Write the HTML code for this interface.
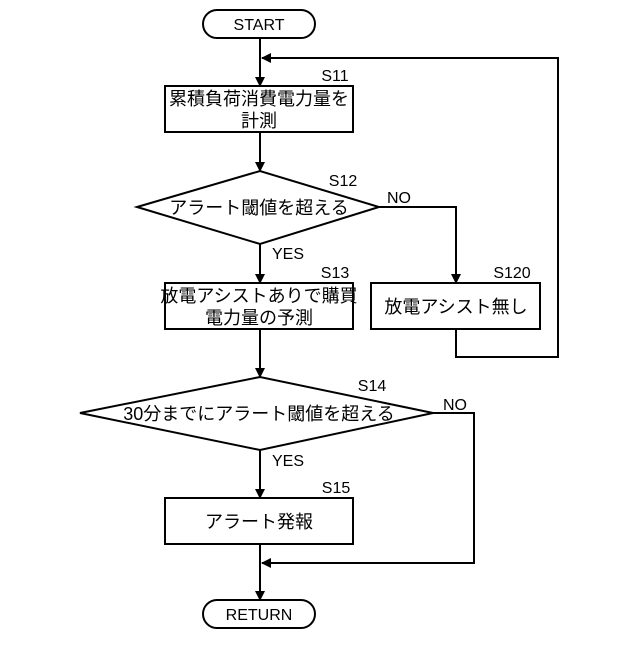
<!DOCTYPE html>
<html><head><meta charset="utf-8"><style>
html,body{margin:0;padding:0;background:#fff;}
svg text{font-family:"Liberation Sans","Noto Sans CJK JP",sans-serif;fill:#000;}
</style></head><body>
<svg width="640" height="640" viewBox="0 0 640 640" xmlns="http://www.w3.org/2000/svg">
<defs><marker id="a" markerWidth="10" markerHeight="10" refX="9" refY="5" orient="auto" markerUnits="userSpaceOnUse"><path d="M0,0 L10,5 L0,10 Z" fill="#000"/></marker></defs>
<g stroke="#000" stroke-width="2" fill="none">
<rect x="203" y="10" width="112" height="28" rx="14"/>
<rect x="203" y="600" width="112" height="28" rx="14"/>
<rect x="165" y="86" width="188" height="46"/>
<rect x="165" y="283" width="188" height="46"/>
<rect x="371" y="283" width="169" height="46"/>
<rect x="165" y="498" width="188" height="46"/>
<polygon points="137,207 260,171 379,207 260,244"/>
<polygon points="80,413 260,377 433,413 260,450"/>
<line x1="260" y1="38" x2="260" y2="86" marker-end="url(#a)"/>
<polyline points="456,329 456,357 558,357 558,58 262,58" marker-end="url(#a)"/>
<line x1="260" y1="132" x2="260" y2="171" marker-end="url(#a)"/>
<line x1="260" y1="244" x2="260" y2="283" marker-end="url(#a)"/>
<polyline points="379,207 456,207 456,283" marker-end="url(#a)"/>
<line x1="260" y1="329" x2="260" y2="377" marker-end="url(#a)"/>
<line x1="260" y1="450" x2="260" y2="498" marker-end="url(#a)"/>
<line x1="260" y1="544" x2="260" y2="600" marker-end="url(#a)"/>
<polyline points="433,413 474,413 474,563 262,563" marker-end="url(#a)"/>
</g>
<g font-size="16" text-anchor="middle">
<text x="259" y="30">START</text>
<text x="259" y="620">RETURN</text>
<text x="335" y="81">S11</text>
<text x="343" y="186">S12</text>
<text x="335" y="278">S13</text>
<text x="512" y="278">S120</text>
<text x="372" y="391">S14</text>
<text x="336" y="493">S15</text>
<text x="399" y="203">NO</text>
<text x="455" y="410">NO</text>
<text x="288" y="259">YES</text>
<text x="288" y="466">YES</text>
</g>
<g font-size="18" text-anchor="middle">
<text x="259" y="105">累積負荷消費電力量を</text>
<text x="259" y="127">計測</text>
<text x="259" y="214">アラート閾値を超える</text>
<text x="259" y="302">放電アシストありで購買</text>
<text x="259" y="324">電力量の予測</text>
<text x="456" y="313">放電アシスト無し</text>
<text x="259" y="420">30分までにアラート閾値を超える</text>
<text x="259" y="528">アラート発報</text>
</g>
</svg>
</body></html>
